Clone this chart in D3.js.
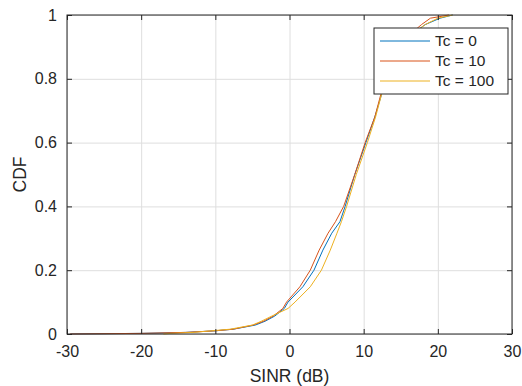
<!DOCTYPE html>
<html>
<head>
<meta charset="utf-8">
<script src="https://cdn.jsdelivr.net/npm/d3@7"></script>
<style>
  body { margin: 0; background: #fff; }
  text { font-family: "Liberation Sans", Arial, sans-serif; fill: #262626; }
  .grid line { stroke: #dedede; stroke-width: 1; }
  .grid path { display: none; }
</style>
</head>
<body>
<div id="chart"></div>
<script>
// chart data
const cdfLevels = [0, 0.002, 0.005, 0.01, 0.015, 0.028, 0.04, 0.056, 0.08, 0.1, 0.148, 0.2, 0.263, 0.316, 0.352, 0.4, 0.5, 0.6, 0.68, 0.75, 0.8, 0.9, 0.958, 0.97, 0.99, 1];
const sinrTc0   = [-29.5, -20, -14, -10, -7.6, -4.6, -3.3, -2.0, -0.7, -0.2, 1.8, 3.3, 4.5, 5.7, 6.8, 7.5, 8.8, 10.3, 11.5, 12.4, 13.0, 14.8, 17.6, 18.3, 20.3, 22];
const sinrTc10  = [-29.6, -20, -14, -10, -7.6, -4.9, -3.5, -2.2, -0.9, -0.4, 1.4, 2.8, 4.0, 5.2, 6.2, 7.3, 8.8, 10.2, 11.5, 12.3, 12.9, 14.6, 17.2, 17.8, 19.0, 21.5];
const sinrTc100 = [-17, -16, -13, -10.5, -8, -5, -3.8, -2.4, -0.2, 0.74, 2.8, 4.3, 5.5, 6.4, 7.0, 7.7, 9.0, 10.5, 11.6, 12.4, 13.0, 14.8, 17.6, 18.3, 20.0, 22];
const seriesNames = ['Tc = 0', 'Tc = 10', 'Tc = 100'];
const seriesColors = ['#0072BD', '#D95319', '#EDB120'];
const xTicks = [-30, -20, -10, 0, 10, 20, 30];
const yTicks = [0, 0.2, 0.4, 0.6, 0.8, 1];

const width = 522, height = 386;
const margin = {top: 15, right: 10, bottom: 52, left: 67},
    w = width - margin.left - margin.right,
    h = height - margin.top - margin.bottom;

const series = [sinrTc0, sinrTc10, sinrTc100].map((xs, i) => ({
  name: seriesNames[i],
  color: seriesColors[i],
  values: xs.map((x, j) => ({x: x, y: cdfLevels[j]}))
}));

const x = d3.scaleLinear().domain([-30, 30]).range([0, w]);
const y = d3.scaleLinear().domain([0, 1]).range([h, 0]);

const svg = d3.select('#chart').append('svg')
    .attr('width', width)
    .attr('height', height)
  .append('g')
    .attr('transform', `translate(${margin.left},${margin.top})`);

// grids
svg.append('g').attr('class', 'grid')
    .attr('transform', `translate(0,${h})`)
    .call(d3.axisBottom(x).tickValues(xTicks).tickSize(-h).tickFormat(''));
svg.append('g').attr('class', 'grid')
    .call(d3.axisLeft(y).tickValues(yTicks).tickSize(-w).tickFormat(''));

// lines
const line = d3.line().x(d => x(d.x)).y(d => y(d.y));
svg.selectAll('.series')
  .data(series)
  .join('path')
    .attr('class', 'series')
    .attr('fill', 'none')
    .attr('stroke', d => d.color)
    .attr('stroke-width', 1)
    .attr('d', d => line(d.values));

// axes (matlab style: inward ticks, box)
const axisColor = '#262626';
const plain = d => String(d);
function styleAxis(g) {
  g.select('.domain').remove();
  g.selectAll('.tick line').attr('stroke', axisColor);
  g.selectAll('.tick text').attr('font-size', 16).attr('fill', axisColor);
}
svg.append('g')
    .attr('transform', `translate(0,${h})`)
    .call(d3.axisBottom(x).tickValues(xTicks).tickFormat(plain).tickSizeInner(-5).tickSizeOuter(0).tickPadding(12))
    .call(styleAxis);
svg.append('g')
    .call(d3.axisLeft(y).tickValues(yTicks).tickFormat(plain).tickSizeInner(-5).tickSizeOuter(0).tickPadding(10))
    .call(styleAxis);
svg.append('g')
    .call(d3.axisTop(x).tickValues(xTicks).tickFormat('').tickSizeInner(-5).tickSizeOuter(0))
    .call(styleAxis);
svg.append('g')
    .attr('transform', `translate(${w},0)`)
    .call(d3.axisRight(y).tickValues(yTicks).tickFormat('').tickSizeInner(-5).tickSizeOuter(0))
    .call(styleAxis);
svg.append('rect')
    .attr('width', w).attr('height', h)
    .attr('fill', 'none')
    .attr('stroke', axisColor)
    .attr('stroke-width', 1);

// axis labels
svg.append('text')
    .attr('text-anchor', 'middle')
    .attr('x', w / 2)
    .attr('y', h + 48)
    .attr('font-size', 17.5)
    .text('SINR (dB)');
svg.append('text')
    .attr('text-anchor', 'middle')
    .attr('transform', `translate(${-41},${h / 2}) rotate(-90)`)
    .attr('font-size', 17.5)
    .text('CDF');

// legend
const legend = svg.append('g')
    .attr('transform', `translate(${307},${13})`);
legend.append('rect')
    .attr('width', 134).attr('height', 66)
    .attr('fill', '#fff')
    .attr('stroke', axisColor)
    .attr('stroke-width', 1);
const item = legend.selectAll('.item')
  .data(series)
  .join('g')
    .attr('class', 'item')
    .attr('transform', (d, i) => `translate(0,${13 + i * 20})`);
item.append('line')
    .attr('x1', 6).attr('x2', 56)
    .attr('stroke', d => d.color)
    .attr('stroke-width', 1);
item.append('text')
    .attr('x', 61)
    .attr('dy', '0.35em')
    .attr('font-size', 15.5)
    .text(d => d.name);
</script>
</body>
</html>
